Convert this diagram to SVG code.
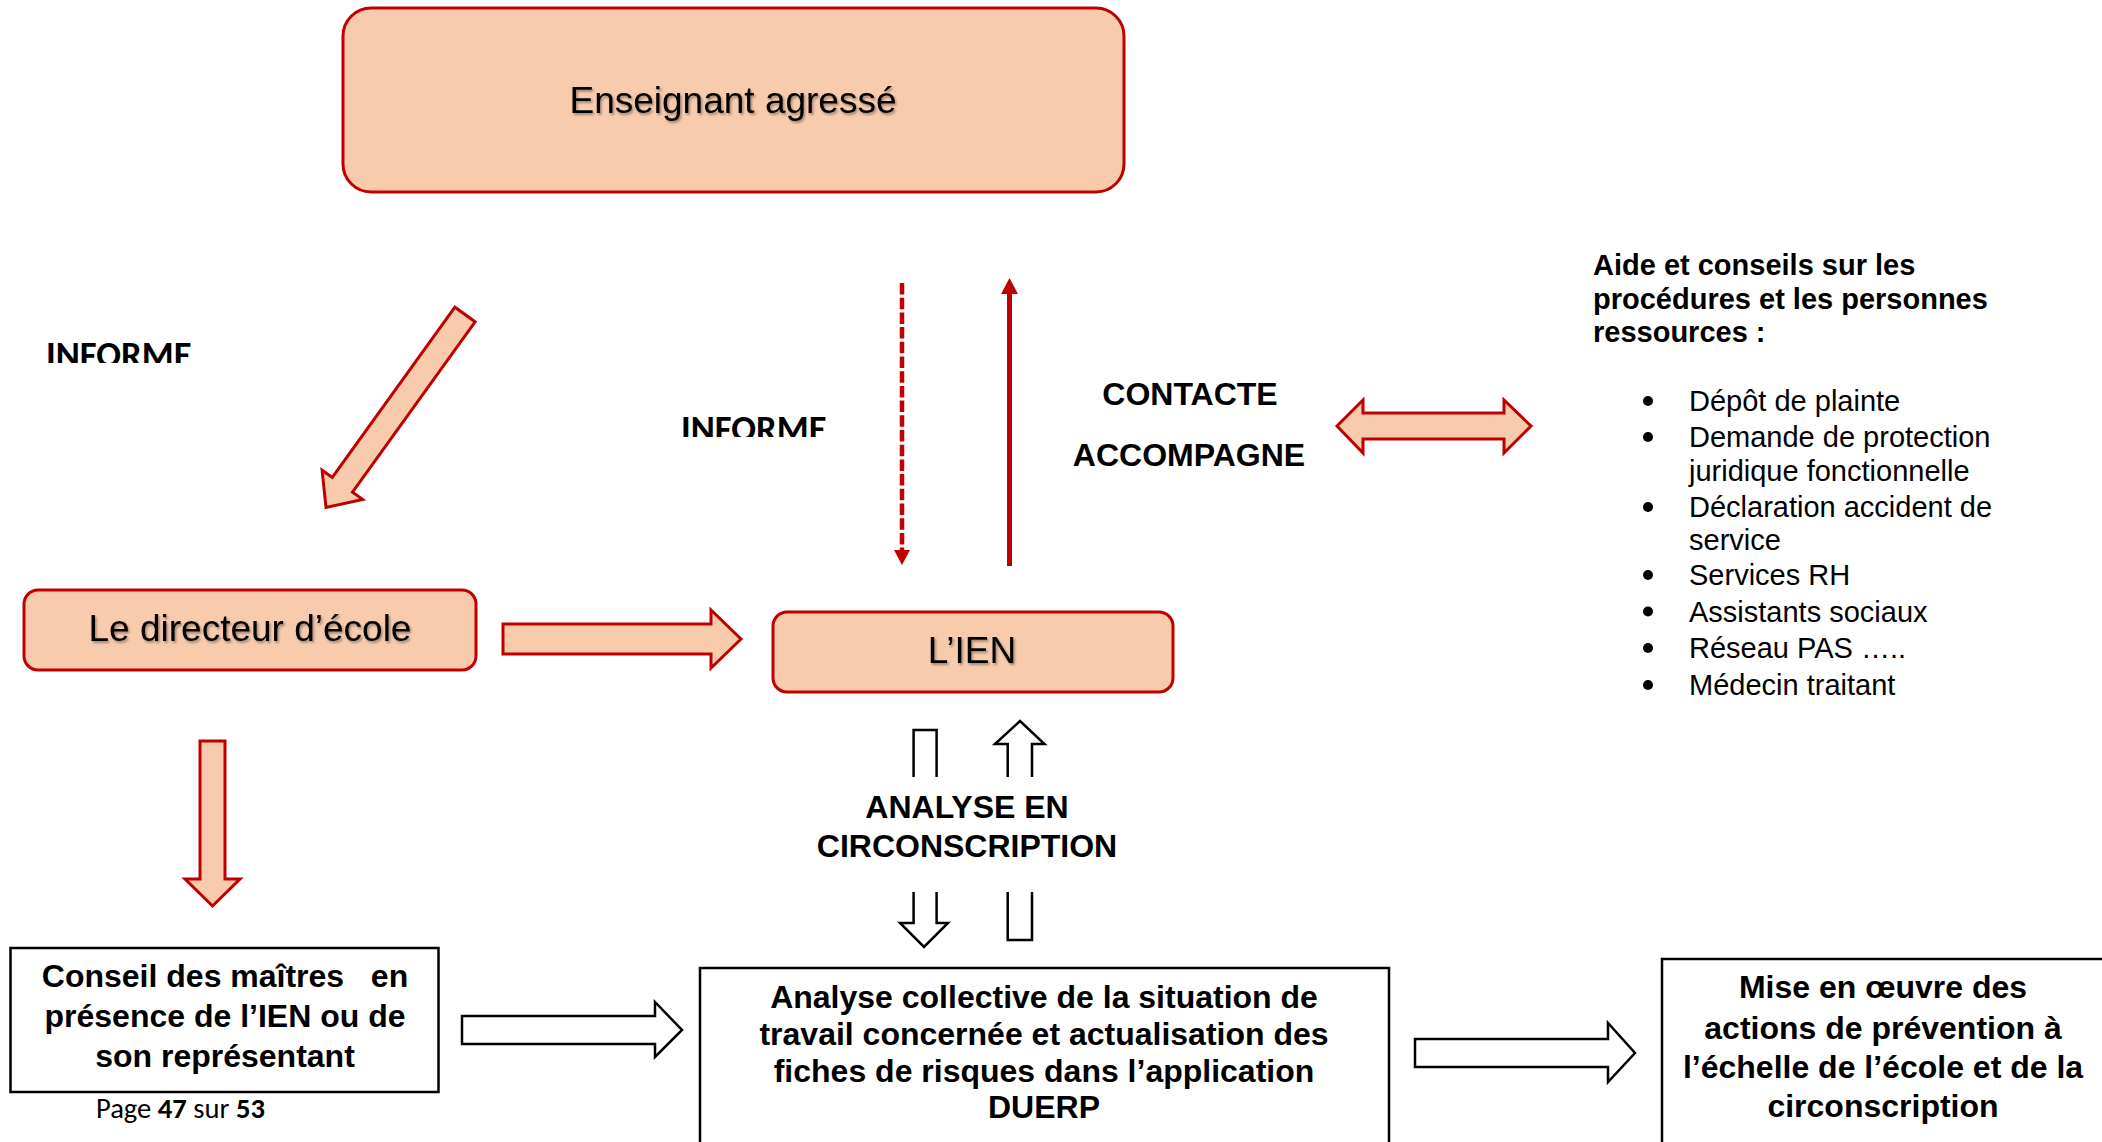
<svg xmlns="http://www.w3.org/2000/svg" width="2102" height="1142" viewBox="0 0 2102 1142">
<style>
.peach{fill:#F8CBAD;stroke:#C00000;stroke-width:3;stroke-linejoin:miter}
.wbox{fill:#fff;stroke:#000;stroke-width:2.5}
.warrow{fill:#fff;stroke:#000;stroke-width:2.5;stroke-linejoin:miter}
.wline{fill:none;stroke:#000;stroke-width:2.5;stroke-linejoin:miter}
.big{font-family:"Liberation Sans",Arial,sans-serif;font-size:37px;fill:#000;text-anchor:middle}
.bold32{font-family:"Liberation Sans",Arial,sans-serif;font-size:32px;font-weight:bold;fill:#000;text-anchor:middle}
.cal{font-family:Carlito,"Open Sans",sans-serif;font-size:36.6px;font-weight:bold;fill:#000}
.hd{font-family:"Liberation Sans",Arial,sans-serif;font-size:29px;font-weight:bold;fill:#000}
.li{font-family:"Liberation Sans",Arial,sans-serif;font-size:29px;fill:#000}
.pg{font-family:Carlito,"Open Sans",sans-serif;font-size:28.6px;fill:#000}
</style>
<defs>
<filter id="sh" x="-10%" y="-30%" width="120%" height="160%">
<feDropShadow dx="1.5" dy="2" stdDeviation="1.2" flood-color="#000" flood-opacity="0.35"/>
</filter>
<clipPath id="clipL"><rect x="30" y="330" width="220" height="33"/></clipPath>
<clipPath id="clipM"><rect x="660" y="400" width="220" height="37"/></clipPath>
</defs>

<g id="connectors">
<polygon class="peach" points="475.1,321.8 454.9,307.2 332.3,477.5 322.1,470.2 326,507.5 362.7,499.4 352.5,492.1"/>
<polygon class="peach" points="503,624 711,624 711,610 741,639 711,668 711,654 503,654"/>
<polygon class="peach" points="200,741 225,741 225,879 240,879 212.5,906 185,879 200,879"/>
<polygon class="peach" points="1337,426 1363,400 1363,413 1504,413 1504,400 1531,426 1504,453 1504,439 1363,439 1363,453"/>
<line x1="902" y1="283" x2="902" y2="552" stroke="#C00000" stroke-width="4.5" stroke-dasharray="11.5 3.2"/>
<polygon points="894,550 910,550 902,565" fill="#C00000"/>
<line x1="1009.5" y1="566" x2="1009.5" y2="292" stroke="#C00000" stroke-width="5"/>
<polygon points="1001,294 1018,294 1009.5,278" fill="#C00000"/>
<path class="wline" d="M913.6,777 V730 H936.6 V777"/>
<path class="warrow" d="M1007.7,777 V744 H995 L1020,721 L1044.5,744 H1032 V777"/>
<path class="warrow" d="M913.6,892 V923 H900 L924,947 L948,923 H936.6 V892"/>
<path class="wline" d="M1007.7,892 V940 H1032 V892"/>
<polygon class="warrow" points="462,1016 655,1016 655,1002 682,1030 655,1057 655,1044 462,1044"/>
<polygon class="warrow" points="1415,1039 1608,1039 1608,1023 1635,1053 1608,1082 1608,1067 1415,1067"/>
</g>

<g id="enseignant">
<rect class="peach" x="343" y="8" width="781" height="184" rx="28"/>
<text class="big" x="733" y="113" filter="url(#sh)">Enseignant agressé</text>
</g>

<g id="directeur">
<rect class="peach" x="24" y="590" width="452" height="80" rx="14"/>
<text class="big" x="250" y="641" filter="url(#sh)">Le directeur d’école</text>
</g>

<g id="ien">
<rect class="peach" x="773" y="612" width="400" height="80" rx="14"/>
<text class="big" x="972" y="663" filter="url(#sh)">L’IEN</text>
</g>

<g id="label-informe-left">
<text class="cal" x="46" y="367" clip-path="url(#clipL)">INFORME</text>
</g>
<g id="label-informe-mid">
<text class="cal" x="681" y="441" clip-path="url(#clipM)">INFORME</text>
</g>
<g id="label-contacte">
<text class="bold32" x="1190" y="405">CONTACTE</text>
<text class="bold32" x="1189" y="466">ACCOMPAGNE</text>
</g>

<g id="ressources">
<text class="hd" x="1593" y="275">Aide et conseils sur les</text>
<text class="hd" x="1593" y="309">procédures et les personnes</text>
<text class="hd" x="1593" y="342">ressources :</text>
<g fill="#000">
<circle cx="1648" cy="401" r="5"/>
<circle cx="1648" cy="437" r="5"/>
<circle cx="1648" cy="507" r="5"/>
<circle cx="1648" cy="575" r="5"/>
<circle cx="1648" cy="611.5" r="5"/>
<circle cx="1648" cy="648" r="5"/>
<circle cx="1648" cy="685" r="5"/>
</g>
<text class="li" x="1689" y="411">Dépôt de plainte</text>
<text class="li" x="1689" y="447">Demande de protection</text>
<text class="li" x="1689" y="481">juridique fonctionnelle</text>
<text class="li" x="1689" y="517">Déclaration accident de</text>
<text class="li" x="1689" y="550">service</text>
<text class="li" x="1689" y="585">Services RH</text>
<text class="li" x="1689" y="621.5">Assistants sociaux</text>
<text class="li" x="1689" y="658">Réseau PAS …..</text>
<text class="li" x="1689" y="695">Médecin traitant</text>
</g>

<g id="analyse-circonscription">
<text class="bold32" x="967" y="818">ANALYSE EN</text>
<text class="bold32" x="967" y="857">CIRCONSCRIPTION</text>
</g>

<g id="conseil">
<rect class="wbox" x="10.5" y="948" width="428" height="144"/>
<text class="bold32" x="225" y="987" xml:space="preserve">Conseil des maîtres   en</text>
<text class="bold32" x="225" y="1027">présence de l’IEN ou de</text>
<text class="bold32" x="225" y="1067">son représentant</text>
</g>

<g id="page">
<text class="pg" x="96" y="1118">Page <tspan font-weight="bold">47</tspan> sur <tspan font-weight="bold">53</tspan></text>
</g>

<g id="analyse-collective">
<rect class="wbox" x="700" y="968" width="689" height="200"/>
<text class="bold32" x="1044" y="1008">Analyse collective de la situation de</text>
<text class="bold32" x="1044" y="1045">travail concernée et actualisation des</text>
<text class="bold32" x="1044" y="1082">fiches de risques dans l’application</text>
<text class="bold32" x="1044" y="1118">DUERP</text>
</g>

<g id="mise-en-oeuvre">
<rect class="wbox" x="1662" y="959" width="445" height="200"/>
<text class="bold32" x="1883" y="998">Mise en œuvre des</text>
<text class="bold32" x="1883" y="1039">actions de prévention à</text>
<text class="bold32" x="1883" y="1078">l’échelle de l’école et de la</text>
<text class="bold32" x="1883" y="1117">circonscription</text>
</g>
</svg>
